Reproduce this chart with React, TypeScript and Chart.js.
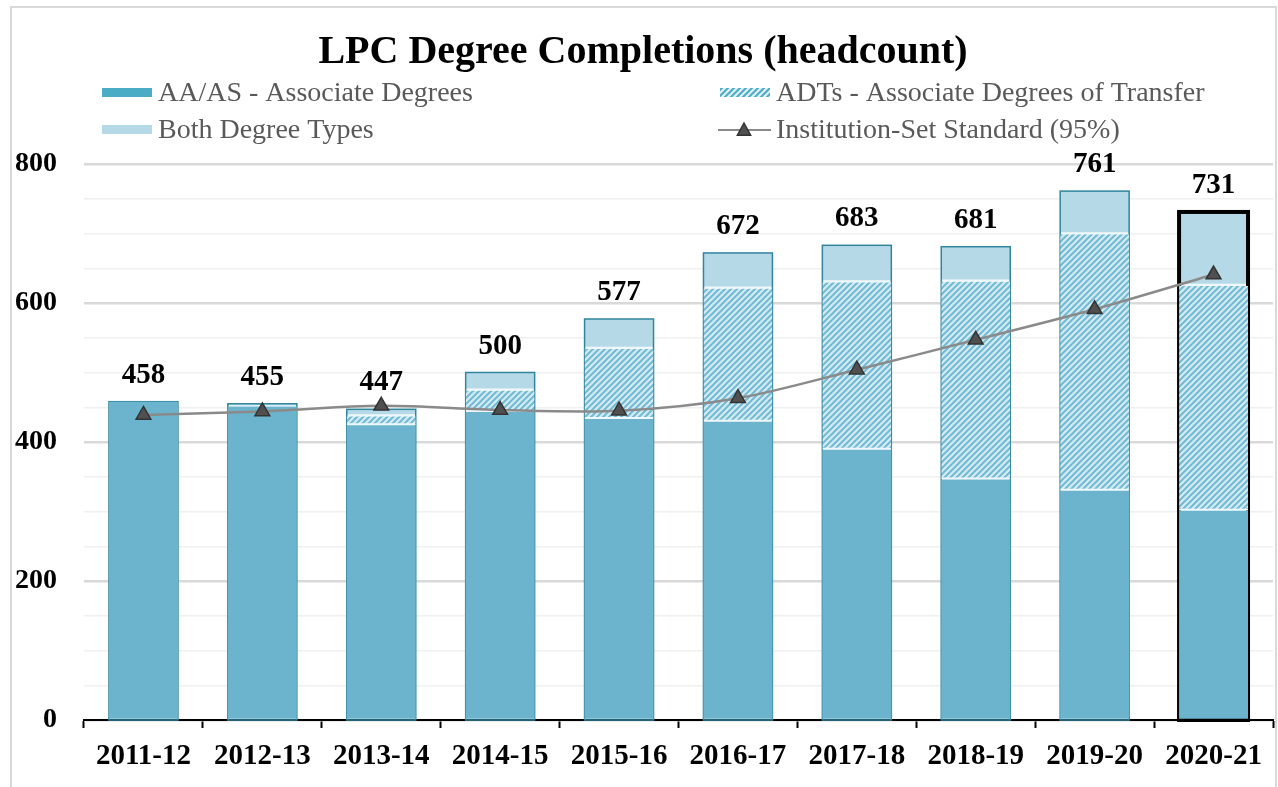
import React, { useEffect, useRef } from 'react';
import { Chart, registerables } from 'chart.js';

Chart.register(...registerables);

// ---- data ----
const categories = ['2011-12', '2012-13', '2013-14', '2014-15', '2015-16', '2016-17', '2017-18', '2018-19', '2019-20', '2020-21'];
const aaDegrees = [458, 451, 424, 443, 433, 429, 389, 346, 330, 301];
const adtDegrees = [0, 0, 13, 31, 101, 192, 241, 285, 369, 324];
const bothTypes = [0, 4, 10, 26, 43, 51, 53, 50, 62, 106];
const standard95 = [439, 444, 452, 446, 445, 463, 504, 547, 591, 641];
const yTickLabels = [0, 200, 400, 600, 800];
const highlightIndex = 9;

const TITLE = 'LPC Degree Completions (headcount)';
const LABEL_AA = 'AA/AS - Associate Degrees';
const LABEL_ADT = 'ADTs - Associate Degrees of Transfer';
const LABEL_BOTH = 'Both Degree Types';
const LABEL_STD = 'Institution-Set Standard (95%)';

const W = 1278;
const H = 787;
const SERIF = '"Liberation Serif", "Times New Roman", serif';

const AA_FILL = '#6cb4cd';
const AA_SWATCH = '#4bacc6';
const BOTH_FILL = '#b5d9e7';
const BAR_EDGE = '#31859c';
const SEP = '#eef7fa';
const LINE_COL = '#8a8a8a';
const MARK_FILL = '#505050';
const MARK_EDGE = '#333333';
const TEXT_GRAY = '#595959';

function makeHatch(bg: string, fg: string, lw: number): CanvasPattern {
  const c = document.createElement('canvas');
  c.width = 6;
  c.height = 6;
  const g = c.getContext('2d')!;
  g.fillStyle = bg;
  g.fillRect(0, 0, 6, 6);
  g.strokeStyle = fg;
  g.lineWidth = lw;
  g.beginPath();
  g.moveTo(0, 6); g.lineTo(6, 0);
  g.moveTo(-3, 3); g.lineTo(3, -3);
  g.moveTo(3, 9); g.lineTo(9, 3);
  g.stroke();
  return g.createPattern(c, 'repeat')!;
}

function drawTriangle(ctx: CanvasRenderingContext2D, x: number, y: number, r: number) {
  ctx.beginPath();
  ctx.moveTo(x, y - r);
  ctx.lineTo(x + r * 0.95, y + r * 0.75);
  ctx.lineTo(x - r * 0.95, y + r * 0.75);
  ctx.closePath();
  ctx.fillStyle = MARK_FILL;
  ctx.fill();
  ctx.strokeStyle = MARK_EDGE;
  ctx.lineWidth = 1.5;
  ctx.stroke();
}

export default function App() {
  const ref = useRef<HTMLCanvasElement | null>(null);

  useEffect(() => {
    const canvas = ref.current;
    if (!canvas) return;
    const hatch = makeHatch('#d3ebf2', '#72bad3', 2);
    const legendHatch = makeHatch('#dff1f6', '#4bacc6', 2);
    const totals = categories.map((_, i) => aaDegrees[i] + adtDegrees[i] + bothTypes[i]);

    const overlay = {
      id: 'overlay',
      beforeDraw(chart: any) {
        const ctx = chart.ctx as CanvasRenderingContext2D;
        ctx.save();
        ctx.fillStyle = '#ffffff';
        ctx.fillRect(0, 0, W, H);
        ctx.strokeStyle = '#d9d9d9';
        ctx.lineWidth = 2;
        ctx.strokeRect(11, 7, 1265, 800);
        ctx.restore();
      },
      afterDatasetDraw(chart: any, args: any) {
        if (args.index !== 2) return;
        const ctx = chart.ctx as CanvasRenderingContext2D;
        const yScale = chart.scales.y;
        const meta = chart.getDatasetMeta(0);
        ctx.save();
        meta.data.forEach((el: any, i: number) => {
          const { x, width } = el.getProps(['x', 'width'], true);
          const top = yScale.getPixelForValue(totals[i]);
          const bottom = yScale.getPixelForValue(0);
          if (i === highlightIndex) {
            ctx.strokeStyle = '#000000';
            ctx.lineWidth = 4;
          } else {
            ctx.strokeStyle = BAR_EDGE;
            ctx.lineWidth = 1.5;
          }
          ctx.strokeRect(x - width / 2, top, width, bottom - top);
        });
        ctx.restore();
      },
      afterDraw(chart: any) {
        const ctx = chart.ctx as CanvasRenderingContext2D;
        const yScale = chart.scales.y;
        const meta = chart.getDatasetMeta(0);
        ctx.save();
        // title
        ctx.fillStyle = '#000000';
        ctx.font = `bold 40px ${SERIF}`;
        ctx.textAlign = 'center';
        ctx.textBaseline = 'alphabetic';
        ctx.fillText(TITLE, 643, 63);

        // totals labels
        ctx.font = `bold 29px ${SERIF}`;
        meta.data.forEach((el: any, i: number) => {
          const { x } = el.getProps(['x'], true);
          const top = yScale.getPixelForValue(totals[i]);
          ctx.fillText(String(totals[i]), x, top - 19);
        });

        // legend
        ctx.textAlign = 'left';
        ctx.font = `28px ${SERIF}`;
        const row1 = 101;
        const row2 = 138;
        ctx.fillStyle = AA_SWATCH;
        ctx.fillRect(102, 88, 50, 9);
        ctx.fillStyle = BOTH_FILL;
        ctx.fillRect(102, 125, 50, 9);
        ctx.fillStyle = legendHatch;
        ctx.fillRect(720, 88, 50, 9);
        ctx.strokeStyle = LINE_COL;
        ctx.lineWidth = 2;
        ctx.beginPath();
        ctx.moveTo(718, 130);
        ctx.lineTo(771, 130);
        ctx.stroke();
        drawTriangle(ctx, 744, 130, 7);

        ctx.fillStyle = TEXT_GRAY;
        ctx.fillText(LABEL_AA, 158, row1);
        ctx.fillText(LABEL_BOTH, 158, row2);
        ctx.fillText(LABEL_ADT, 776, row1);
        ctx.fillText(LABEL_STD, 776, row2);
        ctx.restore();
      },
    };

    const chart = new Chart(canvas, {
      type: 'bar',
      data: {
        labels: categories,
        datasets: [
          {
            label: LABEL_AA,
            data: aaDegrees,
            backgroundColor: AA_FILL,
            borderWidth: 0,
            stack: 'deg',
            order: 1,
          },
          {
            label: LABEL_ADT,
            data: adtDegrees,
            backgroundColor: hatch,
            borderColor: SEP,
            borderWidth: { top: 0, left: 0, right: 0, bottom: 2 },
            borderSkipped: false,
            stack: 'deg',
            order: 1,
          },
          {
            label: LABEL_BOTH,
            data: bothTypes,
            backgroundColor: BOTH_FILL,
            borderColor: SEP,
            borderWidth: { top: 0, left: 0, right: 0, bottom: 2 },
            borderSkipped: false,
            stack: 'deg',
            order: 1,
          },
          {
            type: 'line',
            label: LABEL_STD,
            data: standard95,
            borderColor: LINE_COL,
            borderWidth: 2.5,
            tension: 0.3,
            pointStyle: 'triangle',
            pointRadius: 8.5,
            pointBackgroundColor: MARK_FILL,
            pointBorderColor: MARK_EDGE,
            pointBorderWidth: 1.5,
            stack: 'std',
            order: 0,
          } as any,
        ],
      },
      options: {
        responsive: false,
        animation: false,
        devicePixelRatio: 1,
        layout: { autoPadding: false, padding: { left: 10, right: 5, top: 164, bottom: 7 } },
        datasets: {
          bar: { barPercentage: 0.58, categoryPercentage: 1 },
        },
        plugins: {
          legend: { display: false },
          title: { display: false },
          tooltip: { enabled: false },
        },
        scales: {
          x: {
            offset: true,
            grid: {
              offset: true,
              drawOnChartArea: false,
              drawTicks: true,
              tickLength: 8,
              tickColor: '#000000',
              tickWidth: 2,
            },
            border: { display: true, color: '#000000', width: 2 },
            ticks: {
              color: '#000000',
              font: { family: SERIF, size: 29, weight: 'bold' },
              padding: 11,
              maxRotation: 0,
              autoSkip: false,
            },
            afterFit: (scale: any) => {
              scale.height = 60;
              scale.paddingLeft = 0;
              scale.paddingRight = 0;
            },
          },
          y: {
            stacked: true,
            min: 0,
            max: 800,
            grid: {
              drawTicks: false,
              color: (c: any) => (c.tick && c.tick.value % 200 === 0 ? '#d9d9d9' : '#f0f0f0'),
              lineWidth: (c: any) => (c.tick && c.tick.value % 200 === 0 ? 2.5 : 1.5),
            },
            border: { display: false },
            ticks: {
              stepSize: 50,
              autoSkip: false,
              padding: 27,
              color: '#000000',
              font: { family: SERIF, size: 28, weight: 'bold' },
              callback: (v: any) => (yTickLabels.includes(Number(v)) ? String(v) : ''),
            },
            afterFit: (scale: any) => { scale.width = 74; },
          },
        },
      },
      plugins: [overlay],
    } as any);

    return () => chart.destroy();
  }, []);

  return (
    <div style={{ position: 'absolute', left: 0, top: 0, width: W, height: H }}>
      <canvas ref={ref} width={W} height={H} style={{ display: 'block', width: W, height: H }} />
    </div>
  );
}
